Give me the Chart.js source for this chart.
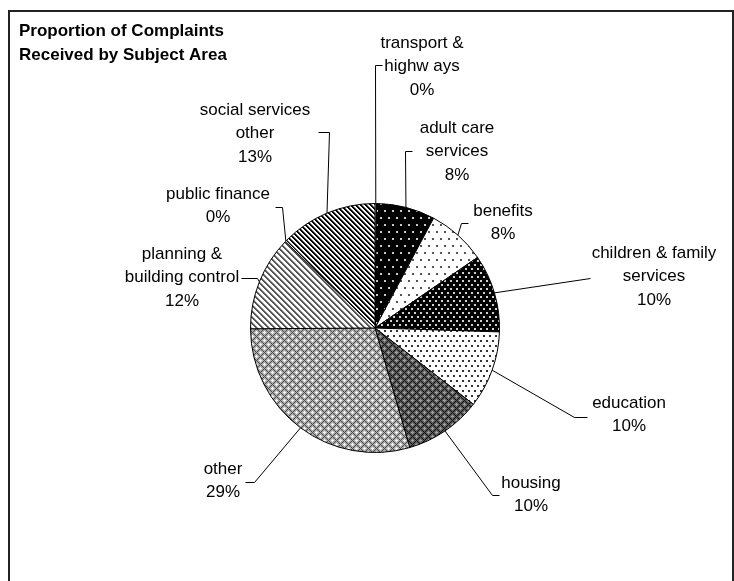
<!DOCTYPE html>
<html>
<head>
<meta charset="utf-8">
<script src="https://cdn.jsdelivr.net/npm/chart.js@4.4.1/dist/chart.umd.min.js"></script>
<style>
  html, body { margin: 0; padding: 0; background: #fff; }
  #wrap { width: 734px; height: 581px; }
</style>
</head>
<body>
<div id="wrap"><canvas id="complaintsChart" width="734" height="581"></canvas></div>
<script>
// Complaints received, share of total by subject area (percent)
const subjectAreas = ["transport & highways", "adult care services", "benefits", "children & family services",
    "education", "housing", "other", "planning & building control", "public finance", "social services other"];
const complaintShares = [0.2, 7.6, 7.6, 10.1, 10.0, 10.0, 29.4, 12.3, 0.2, 12.6];

// how each name is broken over lines in the labels
const nameLines = [
    ["transport &", "highw ays"],
    ["adult care", "services"],
    ["benefits"],
    ["children & family", "services"],
    ["education"],
    ["housing"],
    ["other"],
    ["planning &", "building control"],
    ["public finance"],
    ["social services", "other"]
];

// label block centre (first line) and the leader elbows, canvas px
const labelSpots = [
    { x: 422, y: 43,  leader: [[375, 65], [382, 65]] },
    { x: 457, y: 128, leader: [[405, 151], [412, 151]] },
    { x: 503, y: 211, leader: [[461, 223], [468, 223]] },
    { x: 654, y: 253, leader: [[590, 278]] },
    { x: 629, y: 403, leader: [[574, 417], [587, 417]] },
    { x: 531, y: 483, leader: [[492, 495], [499, 495]] },
    { x: 223, y: 469, leader: [[254, 482], [245, 482]] },
    { x: 182, y: 254, leader: [[257, 278], [241, 278]] },
    { x: 218, y: 194, leader: [[282, 207], [275, 207]] },
    { x: 255, y: 110, leader: [[329, 132], [318, 132]] }
];

const LINE_STEP = 23.5;

function makePattern(w, h, pick) {
    let c = document.createElement("canvas");
    c.width = w;
    c.height = h;
    let g = c.getContext("2d");
    for (let y = 0; y < h; y++) {
        for (let x = 0; x < w; x++) {
            g.fillStyle = pick(x, y);
            g.fillRect(x, y, 1, 1);
        }
    }
    return g.createPattern(c, "repeat");
}

// staggered dots: one at the corner of the tile, one in the middle
function dots(w, h, bg, fg) {
    return makePattern(w, h, (x, y) => {
        let hit = (px, py) => (x === px || x === px + 1) && (y === py || y === py + 1);
        return hit(0, 0) || hit(w / 2, h / 2) ? fg : bg;
    });
}

// "\" stripes
function stripes(p, dark, soft, width) {
    return makePattern(p, p, (x, y) => {
        let k = ((x - y) % p + p) % p;
        if (k < width) return dark;
        if (k === width) return soft;
        return "#fff";
    });
}

// crossed diagonals with a light spot in every diamond
function diamonds(p, bg, line, spot) {
    return makePattern(p, p, (x, y) => {
        let a = (x + y) % p, b = ((x - y) % p + p) % p;
        if (a === 0 || b === 0) return line;
        let near = (cx, cy) => {
            let dx = Math.min(Math.abs(x - cx), p - Math.abs(x - cx));
            let dy = Math.min(Math.abs(y - cy), p - Math.abs(y - cy));
            return dx + dy <= 1;
        };
        if (near(p / 2, 0) || near(0, p / 2)) return spot;
        return bg;
    });
}

const slicePatterns = [
    "#fff",
    dots(8, 14, "#000", "#c8c8c8"),
    dots(8, 14, "#fff", "#555"),
    dots(6, 8, "#000", "#d0d0d0"),
    dots(6, 10, "#fff", "#333"),
    diamonds(8, "#5a5a5a", "#111", "#a0a0a0"),
    diamonds(8, "#acacac", "#4a4a4a", "#f4f4f4"),
    stripes(6, "#555", "#aaa", 2),
    "#fff",
    stripes(5, "#000", "#777", 2)
];

const framePlugin = {
    id: "frame",
    beforeDraw(chart) {
        let ctx = chart.ctx;
        ctx.save();
        ctx.fillStyle = "#fff";
        ctx.fillRect(0, 0, chart.width, chart.height);
        ctx.strokeStyle = "#222";
        ctx.lineWidth = 2;
        ctx.beginPath();
        ctx.moveTo(9, chart.height + 2);
        ctx.lineTo(9, 11);
        ctx.lineTo(733, 11);
        ctx.lineTo(733, chart.height + 2);
        ctx.stroke();
        ctx.restore();
    }
};

const labelPlugin = {
    id: "sliceLabels",
    afterDraw(chart) {
        let ctx = chart.ctx;
        let arcs = chart.getDatasetMeta(0).data;
        let values = chart.data.datasets[0].data;
        let total = values.reduce((s, v) => s + v, 0);

        ctx.save();
        // title
        ctx.fillStyle = "#000";
        ctx.textAlign = "left";
        ctx.textBaseline = "middle";
        ctx.font = "bold 17px 'Liberation Sans', Arial, sans-serif";
        ctx.fillText("Proportion of Complaints", 19, 31);
        ctx.fillText("Received by Subject Area", 19, 55);

        ctx.font = "17px 'Liberation Sans', Arial, sans-serif";
        ctx.textAlign = "center";
        ctx.strokeStyle = "#000";
        ctx.lineWidth = 1;

        arcs.forEach((arc, i) => {
            let spot = labelSpots[i];
            let p = arc.getProps(["x", "y", "startAngle", "endAngle", "outerRadius"], true);
            let mid = (p.startAngle + p.endAngle) / 2;
            let sx = p.x + Math.cos(mid) * p.outerRadius;
            let sy = p.y + Math.sin(mid) * p.outerRadius;

            ctx.beginPath();
            ctx.moveTo(sx, sy);
            spot.leader.forEach(pt => ctx.lineTo(pt[0] + 0.5, pt[1] + 0.5));
            ctx.stroke();

            let lines = nameLines[i].concat([Math.round(values[i] / total * 100) + "%"]);
            lines.forEach((txt, k) => ctx.fillText(txt, spot.x, spot.y + k * LINE_STEP));
        });
        ctx.restore();
    }
};

new Chart(document.getElementById("complaintsChart"), {
    type: "pie",
    data: {
        labels: subjectAreas,
        datasets: [{
            data: complaintShares,
            backgroundColor: slicePatterns,
            borderColor: "#000",
            borderWidth: 1
        }]
    },
    options: {
        responsive: false,
        animation: false,
        devicePixelRatio: 1,
        events: [],
        layout: { padding: { left: 250, right: 234, top: 203, bottom: 128 } },
        plugins: {
            legend: { display: false },
            tooltip: { enabled: false },
            title: { display: false }
        }
    },
    plugins: [framePlugin, labelPlugin]
});
</script>
</body>
</html>
